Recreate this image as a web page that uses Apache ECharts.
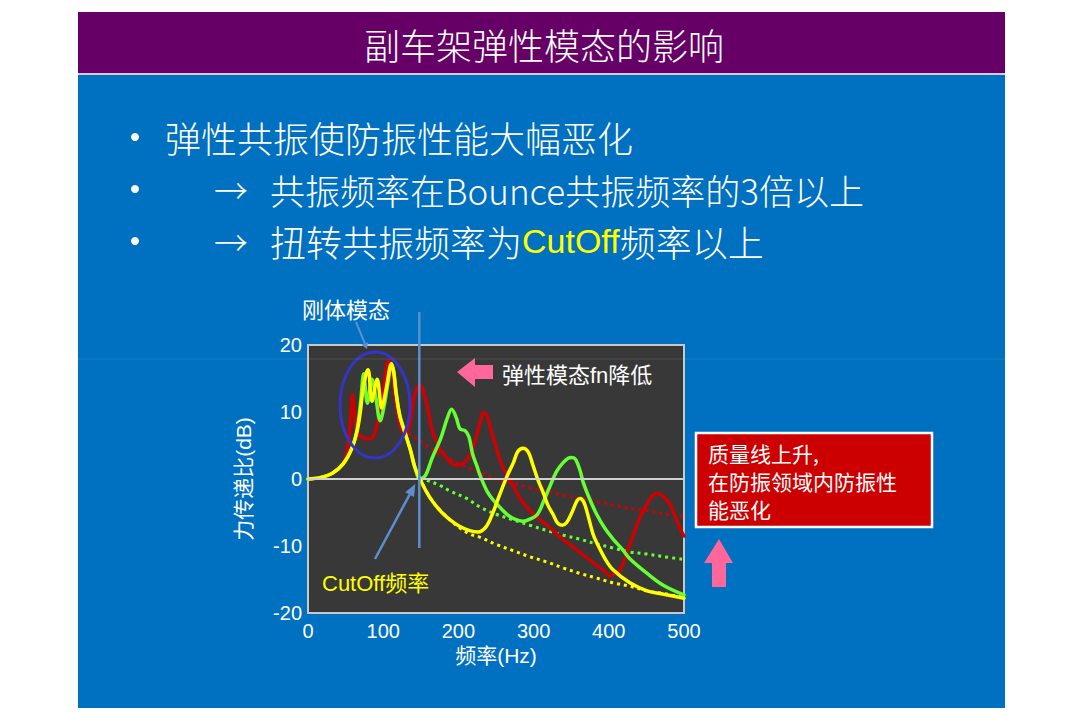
<!DOCTYPE html>
<html><head><meta charset="utf-8">
<script src="https://cdn.jsdelivr.net/npm/echarts/dist/echarts.min.js"></script>
<style>html,body{margin:0;padding:0;background:#fff}#c{width:1080px;height:712px}</style>
</head><body><div id="c"></div>
<script>
const xTicks = [0, 100, 200, 300, 400, 500];
const yTicks = [-20, -10, 0, 10, 20];
const cutoffHz = 148;

const yellowSolid = [[0,0],[16,0.2],[33,0.9],[47,2.3],[58,4.5],[65,7],[69,9.5],[73,13.3],[77,15.6],[80,16.3],[85,11.6],[92,14.9],[98,10.6],[104,13.5],[111,17.2],[114,16],[117,13.0],[122,9.5],[129,6.9],[136,4.4],[142,1.8],[149,0],[157,-1.8],[166,-3.4],[178,-5.0],[189,-6.1],[202,-7.1],[215,-7.7],[226,-7.9],[237,-7.1],[246,-5.0],[255,-2.3],[265,0.5],[273,2.4],[279,4.1],[286,4.6],[293,4.0],[299,2.1],[306,-0.2],[313,-2.1],[319,-3.9],[326,-5.3],[332,-6.6],[338,-6.9],[344,-6.5],[351,-5.0],[358,-3.2],[362,-2.9],[367,-3.5],[372,-5.3],[379,-8.2],[384,-9.5],[395,-11.9],[406,-13.6],[428,-15.5],[451,-16.7],[473,-17.2],[500,-17.8]];
const yellowDotted = [[149,0],[166,-3.4],[189,-6.1],[202,-7.3],[215,-8.2],[229,-8.7],[251,-9.8],[273,-10.7],[295,-11.6],[318,-12.4],[340,-13.3],[362,-14.1],[384,-14.8],[406,-15.5],[428,-16.0],[451,-16.7],[473,-17.1],[500,-17.7]];
const greenSolid = [[0,0],[16,0.2],[33,0.9],[47,2.3],[58,4.5],[65,7.2],[70,11.5],[74,15.7],[79,11.3],[85,14.9],[90,12.3],[96,8.7],[101,10.8],[106,14.1],[111,17.0],[114,16],[117,13.0],[122,9.5],[129,6.9],[136,4.4],[142,1.8],[149,0],[156,0.5],[165,3.1],[176,5.9],[185,9.0],[191,10.4],[197,9.2],[202,7.5],[209,7.2],[214,6.3],[219,3.7],[225,1.8],[229,0.5],[238,-1.8],[246,-3.1],[255,-4.2],[265,-5.3],[275,-6.0],[286,-6.3],[295,-6.0],[305,-5.3],[313,-3.4],[322,-1.0],[331,1.2],[339,2.4],[346,3.1],[351,3.2],[356,2.9],[362,1.2],[366,-0.5],[375,-3.1],[384,-5.3],[395,-7.4],[406,-9.0],[418,-10.5],[428,-11.9],[451,-14.1],[473,-15.9],[500,-17.3]];
const greenDotted = [[149,0],[158,-0.2],[176,-1.0],[189,-1.8],[211,-2.9],[229,-4.2],[251,-5.3],[273,-6.1],[295,-6.9],[318,-7.7],[340,-8.4],[362,-9.0],[384,-9.7],[406,-10.3],[428,-10.9],[451,-11.2],[473,-11.6],[500,-12.0]];
const redSolid = [[0,0],[16,0.2],[33,0.9],[47,2.4],[53,5.0],[57,9.5],[59,12.6],[62,9.5],[65,6.8],[72,6.3],[77,6.0],[82,6.0],[89,6.9],[94,9.5],[100,13.0],[104,16.7],[108,17.7],[111,16.5],[116,12.3],[122,8.2],[129,6.8],[134,7.5],[138,10.0],[142,12.6],[149,14.1],[154,12.8],[160,10.1],[166,6.9],[176,4.4],[185,3.1],[191,2.3],[198,2.1],[206,2.3],[215,3.5],[222,5.6],[229,8.5],[233,9.9],[238,9.5],[242,7.9],[246,6.3],[251,4.4],[259,1.8],[266,0.3],[273,-1.0],[282,-2.9],[295,-4.7],[309,-6.1],[318,-6.9],[328,-7.9],[339,-9.0],[351,-10.0],[362,-11.0],[375,-12.1],[384,-12.9],[395,-13.8],[402,-14.5],[408,-14.1],[415,-13.6],[424,-11.0],[432,-8.5],[441,-5.8],[451,-3.7],[459,-2.4],[465,-2.1],[472,-2.6],[481,-3.7],[489,-5.8],[497,-7.9],[500,-8.5]];
const redDotted = [[125,7.3],[140,6.3],[158,5.0],[176,3.7],[193,2.7],[211,1.8],[233,0.8],[255,-0.2],[273,-0.6],[295,-1.3],[318,-1.8],[339,-2.4],[362,-2.9],[384,-3.4],[406,-3.9],[428,-4.4],[451,-4.7],[473,-5.2],[500,-5.6]];

const CJK = '"Noto Sans CJK SC", sans-serif';
const ARIAL = '"Liberation Sans", "Noto Sans CJK SC", sans-serif';
const RED = '#d00000', YEL = '#ffff00', GRN = '#66ff33';

const chart = echarts.init(document.getElementById('c'), null, {renderer: 'svg'});

function lineSeries(name, data, color, dotted, z) {
  return {
    name, type: 'line', data, showSymbol: false, smooth: 0.35, z,
    lineStyle: {color, width: dotted ? 3 : 3.5, type: dotted ? [3, 4] : 'solid', cap: dotted ? 'butt' : 'round'},
    silent: true, animation: false
  };
}

chart.setOption({
  animation: false,
  backgroundColor: '#ffffff',
  grid: {left: 308, top: 345, width: 376, height: 268, show: true, backgroundColor: '#383838', borderColor: '#c8c8c8', borderWidth: 2, z: 1},
  xAxis: {
    type: 'value', min: xTicks[0], max: xTicks[xTicks.length - 1], interval: 100,
    axisLine: {show: false}, axisTick: {show: false}, splitLine: {show: false},
    axisLabel: {color: '#ffffff', fontSize: 20, fontFamily: ARIAL, margin: 8},
    name: '频率(Hz)', nameLocation: 'middle', nameGap: 32,
    nameTextStyle: {color: '#ffffff', fontSize: 21, fontFamily: ARIAL}
  },
  yAxis: {
    type: 'value', min: yTicks[0], max: yTicks[yTicks.length - 1], interval: 10,
    axisLine: {show: false}, axisTick: {show: false}, splitLine: {show: false},
    axisLabel: {color: '#ffffff', fontSize: 20, fontFamily: ARIAL, margin: 6},
    name: '力传递比(dB)', nameLocation: 'middle', nameGap: 54, nameRotate: 90,
    nameTextStyle: {color: '#ffffff', fontSize: 21, fontFamily: ARIAL}
  },
  series: [
    {name: 'zero', type: 'line', data: [], z: 2, silent: true,
     markLine: {silent: true, symbol: 'none', label: {show: false},
       lineStyle: {color: '#d0d0d0', width: 2, type: 'solid'}, data: [{yAxis: 0}]}},
    lineSeries('redDotted', redDotted, RED, true, 3),
    lineSeries('greenDotted', greenDotted, GRN, true, 3),
    lineSeries('yellowDotted', yellowDotted, YEL, true, 3),
    lineSeries('red', redSolid, RED, false, 4),
    lineSeries('green', greenSolid, GRN, false, 4),
    lineSeries('yellow', yellowSolid, YEL, false, 4)
  ]
});

function arrow(x1, y1, x2, y2, color, w, hl, hw) {
  const dx = x2 - x1, dy = y2 - y1, L = Math.hypot(dx, dy);
  const ux = dx / L, uy = dy / L, px = -uy, py = ux;
  const bx = x2 - ux * hl, by = y2 - uy * hl;
  return [
    {type: 'line', z: 50, shape: {x1, y1, x2: bx, y2: by}, style: {stroke: color, lineWidth: w}},
    {type: 'polygon', z: 50, shape: {points: [[x2, y2], [bx + px * hw, by + py * hw], [bx - px * hw, by - py * hw]]}, style: {fill: color}}
  ];
}

const cp = chart.convertToPixel({gridIndex: 0}, [cutoffHz, 0]);
const vx = cp[0];
const BLUE_LINE = '#5b8fd0';
const LIGHT = '300 ';

const graphics = [
  // slide background
  {type: 'rect', z: -10, shape: {x: 78, y: 75, width: 927, height: 633}, style: {fill: '#0070c0'}},
  {type: 'rect', z: -9, shape: {x: 78, y: 12, width: 927, height: 61}, style: {fill: '#660066'}},
  {type: 'rect', z: -9, shape: {x: 78, y: 73, width: 927, height: 2}, style: {fill: '#d8c8e0'}},
  {type: 'text', z: 10, style: {text: '副车架弹性模态的影响', x: 544, y: 44, fill: '#ffffff', font: LIGHT + '36px ' + CJK, textAlign: 'center', textVerticalAlign: 'middle'}},
  // bullets
  {type: 'circle', z: 10, shape: {cx: 135, cy: 137, r: 4}, style: {fill: '#ffffff'}},
  {type: 'circle', z: 10, shape: {cx: 135, cy: 189, r: 4}, style: {fill: '#ffffff'}},
  {type: 'circle', z: 10, shape: {cx: 135, cy: 241, r: 4}, style: {fill: '#ffffff'}},
  {type: 'text', z: 10, style: {text: '弹性共振使防振性能大幅恶化', x: 165, y: 137, fill: '#ffffff', font: LIGHT + '36px ' + CJK, textVerticalAlign: 'middle'}},
  {type: 'text', z: 10, style: {text: '→', x: 214, y: 189, fill: '#ffffff', font: LIGHT + '34px ' + CJK, textVerticalAlign: 'middle'}},
  {type: 'text', z: 10, style: {text: '共振频率在Bounce共振频率的3倍以上', x: 270, y: 189, fill: '#ffffff', font: LIGHT + '35px ' + CJK, textVerticalAlign: 'middle'}},
  {type: 'text', z: 10, style: {text: '→', x: 214, y: 241, fill: '#ffffff', font: LIGHT + '34px ' + CJK, textVerticalAlign: 'middle'}},
  {type: 'text', z: 10, style: {
    text: '扭转共振频率为{y|CutOff}频率以上', x: 270, y: 241, fill: '#ffffff', font: LIGHT + '36px ' + CJK, textVerticalAlign: 'middle',
    rich: {y: {fill: '#ffff00', fontSize: 34, fontFamily: '"Liberation Sans", sans-serif'}}
  }},
  // faint horizontal artefact line
  {type: 'line', z: 60, shape: {x1: 78, y1: 359, x2: 1005, y2: 359}, style: {stroke: 'rgba(255,255,255,0.10)', lineWidth: 1}},
  // rigid body mode annotation
  {type: 'ellipse', z: 40, shape: {cx: 375, cy: 405, rx: 35, ry: 53}, style: {fill: 'none', stroke: '#3434c8', lineWidth: 3}},
  {type: 'text', z: 40, style: {text: '刚体模态', x: 302, y: 308, fill: '#ffffff', font: '22px ' + CJK, textVerticalAlign: 'middle'}},
  ...arrow(356, 322, 367, 349, BLUE_LINE, 2, 6, 3.5),
  // cutoff vertical line
  {type: 'line', z: 45, shape: {x1: vx, y1: 312, x2: vx, y2: 548}, style: {stroke: BLUE_LINE, lineWidth: 2.5}},
  ...arrow(375, 559, vx - 4, cp[1] + 5, BLUE_LINE, 2.5, 12, 5),
  {type: 'text', z: 40, style: {text: 'CutOff频率', x: 322, y: 583, fill: '#ffff00', font: '22px ' + ARIAL, textVerticalAlign: 'middle'}},
  // elastic mode annotation
  {type: 'polygon', z: 40, shape: {points: [[457, 372], [475, 358], [475, 365], [493, 365], [493, 379], [475, 379], [475, 387]]}, style: {fill: '#ff6699'}},
  {type: 'text', z: 40, style: {text: '弹性模态fn降低', x: 502, y: 375, fill: '#ffffff', font: '22px ' + ARIAL, textVerticalAlign: 'middle'}},
  // red box
  {type: 'rect', z: 40, shape: {x: 696, y: 433, width: 236, height: 94}, style: {fill: '#cc0000', stroke: '#ffffff', lineWidth: 2.5}},
  {type: 'text', z: 41, style: {text: '质量线上升,', x: 708, y: 453, fill: '#ffffff', font: '21px ' + CJK, textVerticalAlign: 'middle'}},
  {type: 'text', z: 41, style: {text: '在防振领域内防振性', x: 708, y: 481, fill: '#ffffff', font: '21px ' + CJK, textVerticalAlign: 'middle'}},
  {type: 'text', z: 41, style: {text: '能恶化', x: 708, y: 509, fill: '#ffffff', font: '21px ' + CJK, textVerticalAlign: 'middle'}},
  {type: 'polygon', z: 40, shape: {points: [[719, 539], [733, 563], [726, 563], [726, 587], [712, 587], [712, 563], [704, 563]]}, style: {fill: '#ff6699'}}
];

chart.setOption({graphic: {elements: graphics}});
</script>
</body></html>
